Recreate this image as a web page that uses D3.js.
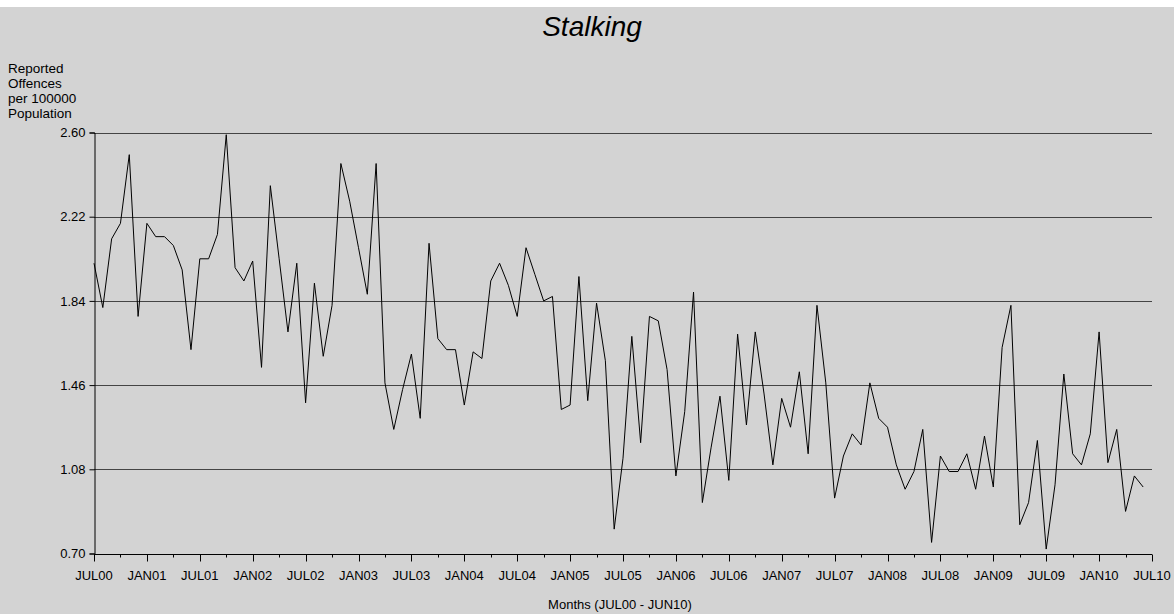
<!DOCTYPE html>
<html>
<head>
<meta charset="utf-8">
<script src="https://cdn.jsdelivr.net/npm/d3@7"></script>
<style>
  body { margin: 0; background: #fff; }
  text { font-family: "Liberation Sans", Arial, sans-serif; fill: #000; }
</style>
</head>
<body>
<div id="chart"></div>
<script>
// monthly stalking rate, JUL00 .. JUN10 (per 100000 population)
const rate = [
  2.01, 1.81, 2.12, 2.19, 2.50, 1.77, 2.19, 2.13, 2.13, 2.09, 1.98, 1.62, // 00/01
  2.03, 2.03, 2.14, 2.59, 1.99, 1.93, 2.02, 1.54, 2.36, 2.03, 1.70, 2.01, // 01/02
  1.38, 1.92, 1.59, 1.82, 2.46, 2.29, 2.08, 1.87, 2.46, 1.47, 1.26, 1.44, // 02/03
  1.60, 1.31, 2.10, 1.67, 1.62, 1.62, 1.37, 1.61, 1.58, 1.93, 2.01, 1.91, // 03/04
  1.77, 2.08, 1.96, 1.84, 1.86, 1.35, 1.37, 1.95, 1.39, 1.83, 1.57, 0.81, // 04/05
  1.13, 1.68, 1.20, 1.77, 1.75, 1.53, 1.05, 1.34, 1.88, 0.93, 1.18, 1.41, // 05/06
  1.03, 1.69, 1.28, 1.70, 1.42, 1.10, 1.40, 1.27, 1.52, 1.15, 1.82, 1.47, // 06/07
  0.95, 1.14, 1.24, 1.19, 1.47, 1.31, 1.27, 1.10, 0.99, 1.07, 1.26, 0.75, // 07/08
  1.14, 1.07, 1.07, 1.15, 0.99, 1.23, 1.00, 1.63, 1.82, 0.83, 0.93, 1.21, // 08/09
  0.72, 1.01, 1.51, 1.15, 1.10, 1.24, 1.70, 1.11, 1.26, 0.89, 1.05, 1.00  // 09/10
]
const xTickLabels = ['JUL00', 'JAN01', 'JUL01', 'JAN02', 'JUL02', 'JAN03', 'JUL03',
  'JAN04', 'JUL04', 'JAN05', 'JUL05', 'JAN06', 'JUL06', 'JAN07', 'JUL07',
  'JAN08', 'JUL08', 'JAN09', 'JUL09', 'JAN10', 'JUL10']
const yTicks = [0.70, 1.08, 1.46, 1.84, 2.22, 2.60]
const yTitle = ['Reported', 'Offences', 'per 100000', 'Population']

let width = 1174
let height = 614

let svg = d3.select('#chart')
  .append('svg')
  .attr('width', width)
  .attr('height', height)

svg.append('rect')
  .attr('x', 0).attr('y', 7)
  .attr('width', width).attr('height', height - 7)
  .attr('fill', '#d3d3d3')

let x = d3.scaleLinear().domain([0, 120]).range([94, 1152])
let y = d3.scaleLinear().domain([0.70, 2.60]).range([553.5, 132.5])

// gridlines
svg.append('g')
  .selectAll('line')
  .data(yTicks.slice(1))
  .enter()
  .append('line')
  .attr('x1', x(0)).attr('x2', x(120))
  .attr('y1', d => Math.round(y(d)) + 0.5)
  .attr('y2', d => Math.round(y(d)) + 0.5)
  .attr('stroke', '#444')
  .attr('stroke-width', 1)

// y axis
let yAxis = d3.axisLeft(y)
  .tickValues(yTicks)
  .tickFormat(d3.format('.2f'))
  .tickSize(5)
  .tickPadding(4)
svg.append('g')
  .attr('transform', 'translate(94.5,0)')
  .call(yAxis)
  .call(g => g.selectAll('text').style('font-size', '13px').attr('font-family', null))
  .call(g => g.selectAll('line, path').attr('stroke', '#000'))

// x axis: quarterly ticks below, longer ones at the half-year labels
let base = Math.round(y(0.70)) + 0.5
let xg = svg.append('g')
xg.append('line')
  .attr('x1', x(0)).attr('x2', x(120))
  .attr('y1', base).attr('y2', base)
  .attr('stroke', '#000')
xg.selectAll('.qtick')
  .data(d3.range(0, 121, 3))
  .enter()
  .append('line')
  .attr('x1', d => Math.round(x(d)) + 0.5)
  .attr('x2', d => Math.round(x(d)) + 0.5)
  .attr('y1', base)
  .attr('y2', d => d % 6 === 0 ? base + 7 : base + 3)
  .attr('stroke', '#000')
xg.selectAll('.xlab')
  .data(xTickLabels)
  .enter()
  .append('text')
  .attr('x', (d, i) => x(i * 6))
  .attr('y', 580)
  .attr('text-anchor', 'middle')
  .style('font-size', '13px')
  .text(d => d)

// the series
let line = d3.line()
  .x((d, i) => x(i))
  .y(d => y(d))
svg.append('path')
  .datum(rate)
  .attr('d', line)
  .attr('fill', 'none')
  .attr('stroke', '#000')
  .attr('stroke-width', 1)

// titles
svg.append('text')
  .attr('x', 592)
  .attr('y', 36)
  .attr('text-anchor', 'middle')
  .style('font-size', '28px')
  .style('font-style', 'italic')
  .text('Stalking')

svg.append('g')
  .selectAll('text')
  .data(yTitle)
  .enter()
  .append('text')
  .attr('x', 8)
  .attr('y', (d, i) => 72.5 + i * 15)
  .style('font-size', '13.5px')
  .text(d => d)

svg.append('text')
  .attr('x', 620)
  .attr('y', 609)
  .attr('text-anchor', 'middle')
  .style('font-size', '13px')
  .text('Months (JUL00 - JUN10)')
</script>
</body>
</html>
